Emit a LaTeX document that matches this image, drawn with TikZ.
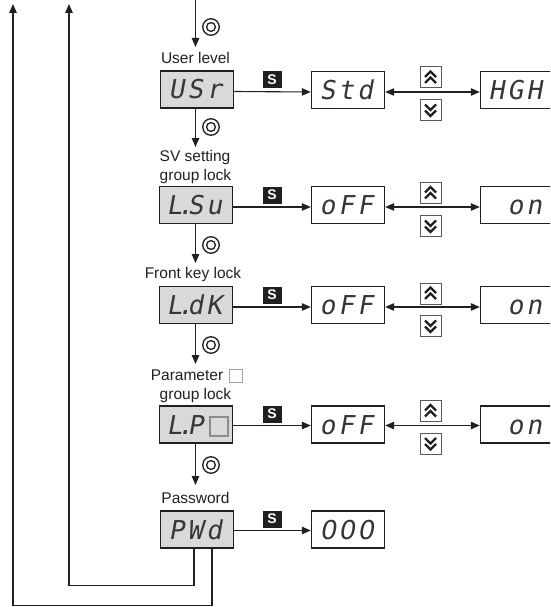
\documentclass[tikz,border=0pt]{standalone}
\usepackage{fontspec}
\setmainfont{Liberation Sans}
\newfontfamily\segfont[FakeSlant=0.18]{DejaVu Sans Mono}
\newfontfamily\segnum[FakeSlant=0.18]{DejaVu Sans}
\usetikzlibrary{arrows.meta,calc}
\definecolor{ink}{HTML}{231F20}
\definecolor{lcdgray}{HTML}{D9D9D9}
\definecolor{keygray}{HTML}{595959}
\definecolor{sqgray}{HTML}{8C8C8C}
\newcommand\sg[1]{\makebox[19pt][l]{#1}}
\newcommand\sgd[1]{\makebox[21pt][l]{#1\makebox[0pt][l]{\kern-5pt.}}}
\tikzset{
  lbl/.style={font=\fontsize{15.5}{19}\selectfont, text=ink, inner sep=0pt, text height=11.2pt, text depth=3.2pt},
  lcd/.style={draw=ink, line width=1.7pt, fill=lcdgray, minimum width=73pt, minimum height=37pt, inner sep=0pt,
    font=\segfont\fontsize{26}{26}\selectfont, text=ink!90, text height=19pt, text depth=0pt},
  disp/.style={lcd, fill=white, line width=1.4pt},
  skey/.style={fill=ink, text=white, font=\bfseries\fontsize{14}{14}\selectfont, minimum width=19pt, minimum height=17pt, inner sep=0pt},
  conn/.style={line width=1.1pt, draw=ink},
  arr/.style={conn, -{Triangle[length=9pt,width=7.5pt]}},
  darr/.style={conn, {Triangle[length=9pt,width=7.5pt]}-{Triangle[length=9pt,width=7.5pt]}},
  ringout/.style={circle, draw=ink, line width=1.3pt, minimum size=16.5pt, inner sep=0pt},
  ringin/.style={circle, draw=ink, line width=1.3pt, minimum size=8.8pt, inner sep=0pt},
  keyframe/.style={draw=keygray, line width=1pt, fill=white},
  chev/.style={draw=ink, line width=2.2pt, miter limit=10},
  upkey/.pic={
    \draw[keyframe] (-10.5,-10.5) rectangle (10.5,10.5);
    \draw[chev] (-5.5,-0.5) -- (0,-6) -- (5.5,-0.5);
    \draw[chev] (-5.5,5.5) -- (0,0) -- (5.5,5.5);
  },
  downkey/.pic={
    \draw[keyframe] (-10.5,-10.5) rectangle (10.5,10.5);
    \draw[chev] (-5.5,0.5) -- (0,6) -- (5.5,0.5);
    \draw[chev] (-5.5,-5.5) -- (0,0) -- (5.5,-5.5);
  }
}
\begin{document}
\begin{tikzpicture}[x=1pt,y=-1pt]
\useasboundingbox (0,0) rectangle (550,607);
\clip (0,0) rectangle (550,607);

% ---- labels
\node[lbl] (lab1) at (195.5,60) {User level};
\node[lbl] (lab2a) at (195,157) {SV setting};
\node[lbl] (lab2b) at (195.5,176) {group lock};
\node[lbl] (lab3) at (193,274) {Front key lock};
\node[lbl] (lab4a) at (187,376) {Parameter};
\node[draw=sqgray!80, fill=white, line width=1pt, minimum size=13pt, inner sep=0pt] (lab4sq) at (235.5,375.5) {};
\node[lbl] (lab4b) at (195.5,395) {group lock};
\node[lbl] (lab5) at (195.5,499) {Password};

% ---- left (gray) displays
\node[lcd] (usr) at (197,89.5) {\sg{U}\sg{S}\sg{r}};
\node[lcd] (lsu) at (196,205) {\sgd{L}\sg{S}\sg{u}};
\node[lcd] (ldk) at (196,305) {\sgd{L}\sg{d}\sg{K}};
\node[lcd] (lp) at (196,424.5) {\sgd{L}\sg{P}\sg{\phantom{X}}};
\node[draw=sqgray, fill=lcdgray, line width=1.2pt, minimum width=18pt, minimum height=19pt, inner sep=0pt] (lpsq) at (219,426.5) {};
\node[lcd] (pwd) at (197,529.5) {\sg{P}\sg{W}\sg{d}};

% ---- value displays
\node[disp] (std) at (348,90) {\sg{S}\sg{t}\sg{d}};
\node[disp] (hgh) at (517,90) {\sg{H}\sg{G}\sg{H}};
\node[disp] (off1) at (348,205) {\sg{o}\sg{F}\sg{F}};
\node[disp] (on1) at (517,205) {\sg{}\sg{o}\sg{n}};
\node[disp] (off2) at (348,305) {\sg{o}\sg{F}\sg{F}};
\node[disp] (on2) at (517,305) {\sg{}\sg{o}\sg{n}};
\node[disp] (off3) at (348,424.5) {\sg{o}\sg{F}\sg{F}};
\node[disp] (on3) at (517,424.5) {\sg{}\sg{o}\sg{n}};
\node[disp, font=\segnum\fontsize{26}{26}\selectfont] (zero) at (348,529.5) {\sg{0}\sg{0}\sg{0}};

% ---- S keys
\node[skey] (s1) at (272,79.5) {S};
\node[skey] (s2) at (272,195) {S};
\node[skey] (s3) at (272,295) {S};
\node[skey] (s4) at (272,414) {S};
\node[skey] (s5) at (272,519) {S};

% ---- S arrows
\draw[arr] ([yshift=-2pt]usr.east) -- ([yshift=-2pt]std.west);
\draw[arr] ([yshift=-2pt]lsu.east) -- ([yshift=-2pt]off1.west);
\draw[arr] ([yshift=-2pt]ldk.east) -- ([yshift=-2pt]off2.west);
\draw[arr] ([yshift=-1pt]lp.east) -- ([yshift=-1pt]off3.west);
\draw[arr] ([yshift=-1pt]pwd.east) -- ([yshift=-1pt]zero.west);

% ---- double arrows
\draw[darr] ([yshift=-2pt]std.east) -- ([yshift=-2pt]hgh.west);
\draw[darr] ([yshift=-2pt]off1.east) -- ([yshift=-2pt]on1.west);
\draw[darr] ([yshift=-2pt]off2.east) -- ([yshift=-2pt]on2.west);
\draw[darr] ([yshift=-1pt]off3.east) -- ([yshift=-1pt]on3.west);

% ---- up / down keys
\pic (up1) at (430.5,77.5) {upkey};
\pic (dn1) at (430.5,110) {downkey};
\pic (up2) at (430.5,193) {upkey};
\pic (dn2) at (430.5,226) {downkey};
\pic (up3) at (430.5,293.5) {upkey};
\pic (dn3) at (430.5,326) {downkey};
\pic (up4) at (430.5,411) {upkey};
\pic (dn4) at (430.5,443.5) {downkey};

% ---- vertical flow
\coordinate (entry) at (195.5,0);
\coordinate (t0) at (195.5,47);
\coordinate (t1) at (195.5,147);
\coordinate (t2) at (195.5,263);
\coordinate (t3) at (195.5,364);
\coordinate (t4) at (195.5,485);
\draw[arr] (entry) -- (t0);
\draw[arr] (usr.south -| t1) -- (t1);
\draw[arr] (lsu.south -| t2) -- (t2);
\draw[arr] (ldk.south -| t3) -- (t3);
\draw[arr] (lp.south -| t4) -- (t4);

% ---- rings
\foreach \n/\y in {0/27,1/127,2/245,3/345,4/465}{
  \node[ringout] (ro\n) at (211,\y) {};
  \node[ringin] (ri\n) at (211,\y) {};
}

% ---- return loops
\coordinate (backA) at (69,4);
\coordinate (backB) at (13,4);
\draw[arr] ([xshift=-3pt]pwd.south) -- ++(0,37) -| (backA);
\draw[arr] ([xshift=15pt]pwd.south) -- ++(0,57) -| (backB);
\end{tikzpicture}
\end{document}
